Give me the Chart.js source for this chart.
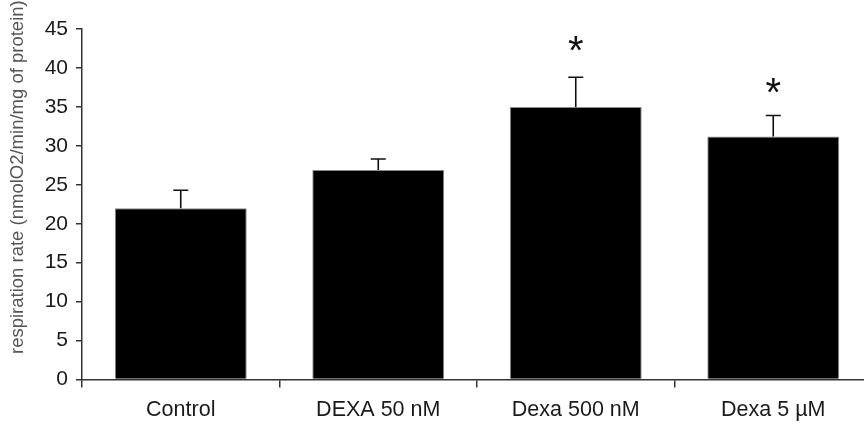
<!DOCTYPE html>
<html>
<head>
<meta charset="utf-8">
<script src="https://cdn.jsdelivr.net/npm/chart.js@4.4.1/dist/chart.umd.min.js"></script>
<style>
  html, body { margin: 0; padding: 0; background: #fff; overflow: hidden; }
  #wrap { width: 872px; height: 424px; position: relative; }
</style>
</head>
<body>
<div id="wrap"><canvas id="c"></canvas></div>
<script>
// ---- data ----
const categories = ["Control", "DEXA 50 nM", "Dexa 500 nM", "Dexa 5 \u00b5M"];
const respirationRate = [22.0, 26.9, 35.0, 31.2];
const errorUp = [2.3, 1.4, 3.8, 2.7];
const significance = ["", "", "*", "*"];
const significanceY = [null, null, 42.8, 37.4];
const yTicksMin = 0, yTicksMax = 45, yTickStep = 5;
const yTitle = "respiration rate (nmolO2/min/mg of protein)";

const FONT = "'Liberation Sans', Arial, sans-serif";

const errorBarsPlugin = {
  id: 'errorBars',
  afterDatasetsDraw(chart) {
    const ctx = chart.ctx;
    const meta = chart.getDatasetMeta(0);
    const y = chart.scales.y;
    ctx.save();
    ctx.strokeStyle = '#111';
    ctx.lineWidth = 1.6;
    meta.data.forEach((bar, i) => {
      const x = bar.x;
      const top = y.getPixelForValue(respirationRate[i] + errorUp[i]);
      const base = y.getPixelForValue(respirationRate[i]);
      ctx.beginPath();
      ctx.moveTo(x, base);
      ctx.lineTo(x, top);
      ctx.moveTo(x - 7.5, top);
      ctx.lineTo(x + 7.5, top);
      ctx.stroke();
      if (significance[i]) {
        const size = 40;
        ctx.fillStyle = '#111';
        ctx.font = size + 'px ' + FONT;
        ctx.textAlign = 'center';
        ctx.textBaseline = 'alphabetic';
        const cy = y.getPixelForValue(significanceY[i]);
        ctx.fillText(significance[i], x, cy + 0.45 * size);
      }
    });
    ctx.restore();
  }
};

const yTitlePlugin = {
  id: 'yTitle',
  afterDraw(chart) {
    const ctx = chart.ctx;
    ctx.save();
    ctx.translate(18, 354);
    ctx.rotate(-Math.PI / 2);
    ctx.fillStyle = '#555';
    ctx.font = '18.5px ' + FONT;
    ctx.textAlign = 'left';
    ctx.textBaseline = 'middle';
    ctx.fillText(yTitle, 0, 0);
    ctx.restore();
  }
};

new Chart(document.getElementById('c'), {
  type: 'bar',
  data: {
    labels: categories,
    datasets: [{
      data: respirationRate,
      backgroundColor: '#000',
      borderColor: '#8a8a8a',
      borderWidth: 1,
      barPercentage: 0.668,
      categoryPercentage: 1.0
    }]
  },
  options: {
    responsive: true,
    maintainAspectRatio: false,
    animation: false,
    devicePixelRatio: 1,
    layout: { padding: { top: 29, left: 0, right: 0, bottom: 0 } },
    plugins: { legend: { display: false }, tooltip: { enabled: false }, title: { display: false } },
    scales: {
      x: {
        afterFit(scale) { scale.height = 424 - 379.5; },
        grid: {
          offset: true,
          drawOnChartArea: false,
          drawTicks: true,
          tickLength: 8,
          color: '#333',
          lineWidth: 1.5
        },
        border: { display: true, color: '#333', width: 1.5 },
        ticks: {
          color: '#1a1a1a',
          font: { family: FONT, size: 21.5 },
          padding: 10,
          maxRotation: 0
        }
      },
      y: {
        min: yTicksMin,
        max: yTicksMax,
        afterFit(scale) { scale.width = 82; },
        grid: {
          drawOnChartArea: false,
          drawTicks: true,
          tickLength: 6,
          color: '#333',
          lineWidth: 1.5
        },
        border: { display: true, color: '#333', width: 1.5 },
        ticks: {
          stepSize: yTickStep,
          color: '#1a1a1a',
          font: { family: FONT, size: 21 },
          padding: 8
        }
      }
    }
  },
  plugins: [errorBarsPlugin, yTitlePlugin]
});
</script>
</body>
</html>
